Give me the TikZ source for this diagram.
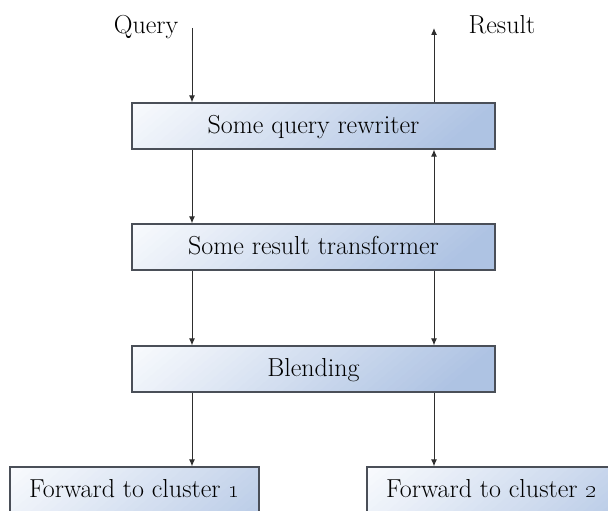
\documentclass[tikz,border=0pt]{standalone}
\usetikzlibrary{arrows.meta}
\definecolor{boxlight}{HTML}{FBFCFE}
\definecolor{boxdark}{HTML}{AEC3E3}
\definecolor{boxline}{HTML}{4A4F58}
\definecolor{wire}{HTML}{2E2E2E}
\pgfdeclarelayer{background}
\pgfsetlayers{background,main}
% diagonal fill of a stage: light at the upper left corner, ramping to blue
% in thin slanted bands, flat blue beyond the ramp
\newcommand\paintstage[1]{%
  \begin{pgfonlayer}{background}
    \begin{scope}
      \clip (#1.north west) rectangle (#1.south east);
      \fill[boxdark] (#1.north west) rectangle (#1.south east);
      \begin{scope}[shift={(#1.north west)}, rotate=-50]
        \foreach \band in {0,...,40}{
          \pgfmathsetmacro\share{100-\band*100/40}
          \fill[boxlight!\share!boxdark] (\band*6-6,-300) rectangle (\band*6+6.6,300);
        }
      \end{scope}
    \end{scope}
  \end{pgfonlayer}}
\begin{document}
\begin{tikzpicture}[x=1pt,y=-1pt,
  stage/.style={draw=boxline, line width=1.3pt, minimum height=46pt,
    inner sep=0pt, text height=19pt, text depth=4pt,
    font=\fontsize{26}{31}\selectfont},
  label/.style={font=\fontsize{26}{31}\selectfont, inner sep=0pt, anchor=base},
  flow/.style={draw=wire, line width=1pt, -{Latex[length=7pt,width=6pt]}}]
  \useasboundingbox (0,0) rectangle (608,511);

  % pipeline stages
  \node[stage, minimum width=363pt] (rw) at (313.5,126) {Some query rewriter};
  \node[stage, minimum width=363pt] (rt) at (313.5,247) {Some result transformer};
  \node[stage, minimum width=363pt] (bl) at (313.5,369) {Blending};
  \node[stage, minimum width=249pt] (c1) at (134.5,490) {Forward to cluster \oldstylenums{1}};
  \node[stage, minimum width=249pt] (c2) at (491.5,490) {Forward to cluster \oldstylenums{2}};
  \paintstage{rw}
  \paintstage{rt}
  \paintstage{bl}
  \paintstage{c1}
  \paintstage{c2}

  % end labels
  \node[label] (q) at (146,34) {Query};
  \node[label] (r) at (502,34) {Result};

  % the two vertical lanes
  \coordinate (ql) at (192,28);
  \coordinate (rl) at (434,28);

  \draw[flow] (ql) -- (rw.north -| ql);
  \draw[flow] (rw.north -| rl) -- (rl);
  \draw[flow] (rw.south -| ql) -- (rt.north -| ql);
  \draw[flow] (rt.north -| rl) -- (rw.south -| rl);
  \draw[flow] (rt.south -| ql) -- (bl.north -| ql);
  \draw[flow] (rt.south -| rl) -- (bl.north -| rl);
  \draw[flow] (bl.south -| ql) -- (c1.north -| ql);
  \draw[flow] (bl.south -| rl) -- (c2.north -| rl);
\end{tikzpicture}
\end{document}
